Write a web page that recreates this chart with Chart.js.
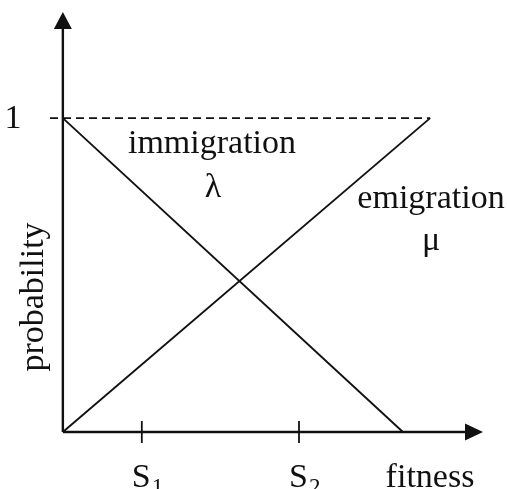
<!DOCTYPE html>
<html>
<head>
<meta charset="utf-8">
<script src="https://cdn.jsdelivr.net/npm/chart.js@4.4.0/dist/chart.umd.min.js"></script>
<style>
  html, body { margin: 0; padding: 0; background: #fff; }
  #wrap { width: 507px; height: 489px; }
</style>
</head>
<body>
<div id="wrap"><canvas id="myChart" width="507" height="489"></canvas></div>
<script>
// data (fitness on x, probability on y)
const immigrationX = [0, 0.926];
const immigrationY = [1, 0];
const emigrationX = [0, 1];
const emigrationY = [0, 1];
const maxLineX = [-0.035, 1];
const maxLineY = [1, 1];
const xTicks = [0.215, 0.643];
const xTickLabels = ['S', 'S'];
const xTickSubs = ['1', '2'];
const yTicks = [1];
const yTickLabels = ['1'];

const serif = '"Liberation Serif", "Times New Roman", serif';
const ink = '#111';

function pts(xs, ys) {
    return xs.map((x, i) => ({ x: x, y: ys[i] }));
}

// axes with arrows, ticks and text
const axesPlugin = {
    id: 'axesPlugin',
    afterDatasetsDraw(chart) {
        const c = chart.ctx;
        const xs = chart.scales.x, ys = chart.scales.y;
        const x0 = xs.getPixelForValue(0), y0 = ys.getPixelForValue(0);
        const xEnd = xs.right, yEnd = ys.top;
        c.save();
        c.strokeStyle = ink;
        c.fillStyle = ink;
        c.lineWidth = 2.4;
        c.beginPath();
        c.moveTo(x0, y0); c.lineTo(x0, yEnd + 14);
        c.moveTo(x0, y0); c.lineTo(xEnd - 16, y0);
        c.stroke();
        // arrow heads
        c.beginPath();
        c.moveTo(x0, yEnd); c.lineTo(x0 - 9, yEnd + 17); c.lineTo(x0 + 9, yEnd + 17);
        c.closePath(); c.fill();
        c.beginPath();
        c.moveTo(xEnd, y0); c.lineTo(xEnd - 18, y0 - 8.5); c.lineTo(xEnd - 18, y0 + 8.5);
        c.closePath(); c.fill();
        // x ticks
        c.lineWidth = 1.8;
        xTicks.forEach((v, i) => {
            const px = xs.getPixelForValue(v);
            c.beginPath(); c.moveTo(px, y0 - 11); c.lineTo(px, y0 + 11); c.stroke();
            c.font = '34px ' + serif;
            c.textAlign = 'left'; c.textBaseline = 'alphabetic';
            const w = c.measureText(xTickLabels[i]).width;
            c.fillText(xTickLabels[i], px - 10, 487);
            c.font = '23px ' + serif;
            c.fillText(xTickSubs[i], px - 10 + w + 1, 494);
        });
        // y tick labels
        c.font = '34px ' + serif;
        yTicks.forEach((v, i) => {
            c.textAlign = 'center'; c.textBaseline = 'middle';
            c.fillText(yTickLabels[i], 13, ys.getPixelForValue(v) + 1);
        });
        // axis titles
        c.textAlign = 'center'; c.textBaseline = 'alphabetic';
        c.fillText('fitness', 430, 487);
        c.save();
        c.translate(43, 297);
        c.rotate(-Math.PI / 2);
        c.fillText('probability', 0, 0);
        c.restore();
        // curve labels
        c.fillText('immigration', 212, 153);
        c.fillText('λ', 213, 197);
        c.fillText('emigration', 431, 208);
        c.fillText('μ', 431, 250);
        c.restore();
    }
};

const ctx = document.getElementById('myChart');
new Chart(ctx, {
    type: 'scatter',
    data: {
        datasets: [{
            label: 'max',
            data: pts(maxLineX, maxLineY),
            showLine: true,
            borderColor: ink,
            borderWidth: 1.9,
            borderDash: [8, 5],
            pointRadius: 0,
            clip: false
        }, {
            label: 'immigration',
            data: pts(immigrationX, immigrationY),
            showLine: true,
            borderColor: ink,
            borderWidth: 1.9,
            pointRadius: 0,
            clip: false
        }, {
            label: 'emigration',
            data: pts(emigrationX, emigrationY),
            showLine: true,
            borderColor: ink,
            borderWidth: 1.9,
            pointRadius: 0,
            clip: false
        }]
    },
    options: {
        responsive: false,
        animation: false,
        events: [],
        layout: { padding: { left: 50, right: 24, top: 12, bottom: 57 } },
        plugins: { legend: { display: false }, tooltip: { enabled: false } },
        scales: {
            x: { type: 'linear', min: -0.035, max: 1.144, display: false },
            y: { type: 'linear', min: 0, max: 1.338, display: false }
        }
    },
    plugins: [axesPlugin]
});
</script>
</body>
</html>
